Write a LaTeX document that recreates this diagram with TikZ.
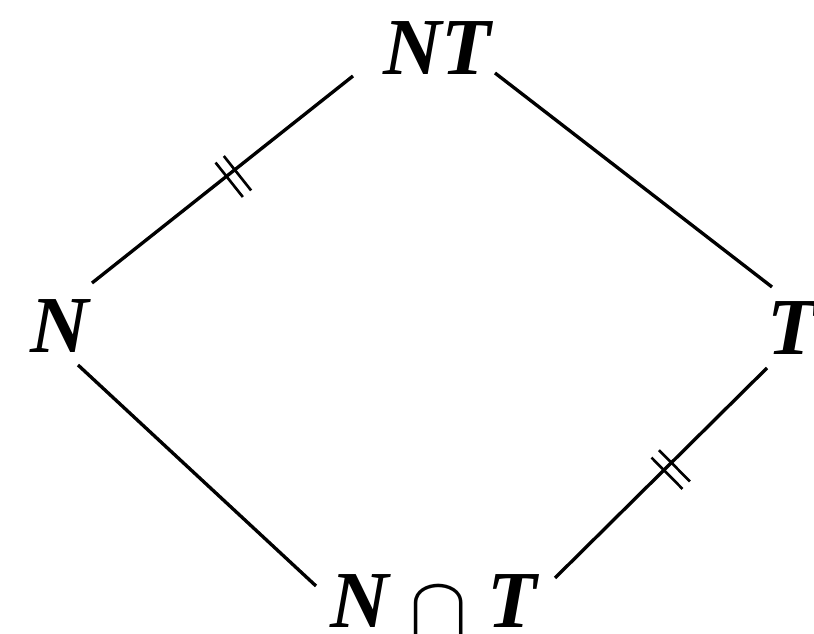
\documentclass[tikz,border=0pt]{standalone}
\usepackage{amsmath,amssymb}
\usepackage{fontspec}
\setmainfont{Liberation Serif}
\usetikzlibrary{positioning, calc, decorations.markings}

\tikzset{
  lbl/.style={inner sep=0pt, anchor=base, font=\fontsize{23}{28}\selectfont\bfseries\itshape},
  link/.style={line width=0.95pt},
  eqmark/.style={postaction={decorate, decoration={markings,
      mark=at position 0.47 with {
        \draw[line width=0.75pt] (-1.5pt,-5pt) -- (-1.5pt,7.5pt);
        \draw[line width=0.75pt] (1.5pt,-5pt) -- (1.5pt,7.5pt);
      }}}}
}

\begin{document}
\begin{tikzpicture}[x=0.01cm, y=-0.01cm]
    \useasboundingbox (0,0) rectangle (814,634);

    % Lattice elements
    \node[lbl] (NT) at (437,75) {NT};
    \node[lbl] (N) at (60,353) {N};
    \node[lbl] (T) at (792,355) {T};
    \node[lbl] (NcapT) at (434,628) {N \raisebox{-2.5pt}{$\cap$} T};

    % Edges of the diamond
    \draw[link, eqmark] ($(NT.base)+(-84,1)$) -- ($(N.base)+(32,-70)$);
    \draw[link] ($(NT.base)+(58,-2)$) -- ($(T.base)+(-20,-68)$);
    \draw[link] ($(N.base)+(18,12)$) -- ($(NcapT.base)+(-118,-42)$);
    \draw[link, eqmark] ($(T.base)+(-25,13)$) -- ($(NcapT.base)+(121,-50)$);

\end{tikzpicture}
\end{document}
